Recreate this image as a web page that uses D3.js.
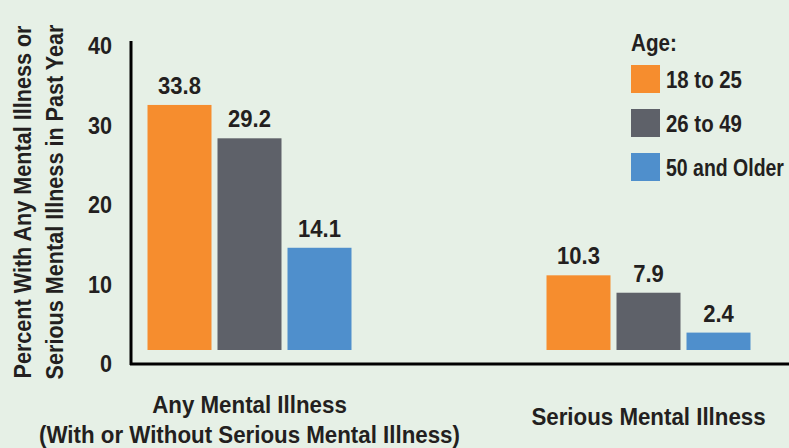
<!DOCTYPE html>
<html><head><meta charset="utf-8">
<script src="https://cdn.jsdelivr.net/npm/d3@7"></script>
<style>
html,body{margin:0;padding:0;background:#e6f0e6;}
svg{display:block;font-family:"Liberation Sans Narrow","Arial Narrow","Liberation Sans",sans-serif;font-weight:bold;}
</style></head>
<body>
<svg id="chart" width="789" height="448"></svg>
<script>
const categories = ["Any Mental Illness", "Serious Mental Illness"];
const categoryLines = [["Any Mental Illness", "(With or Without Serious Mental Illness)"], ["Serious Mental Illness"]];
const seriesNames = ["18 to 25", "26 to 49", "50 and Older"];
const values18to25 = [33.8, 10.3];
const values26to49 = [29.2, 7.9];
const values50plus = [14.1, 2.4];
const yTicks = [0, 10, 20, 30, 40];
const yTitleLines = ["Percent With Any Mental Illness or", "Serious Mental Illness in Past Year"];
const colors = ["#f68d2e", "#5e6169", "#4f8fcc"];

const svg = d3.select("#chart");
const txt = "#231f20";
const series = [values18to25, values26to49, values50plus];
const FS = 24;

// text drawn in a horizontally condensed group (simulates condensed typeface)
function addText(parent, x, y, str, opts) {
  const o = Object.assign({ anchor: "start", f: 0.9, rot: 0, maxW: null, dy: null }, opts || {});
  const g = parent.append("g");
  const t = g.append("text").attr("x", 0).attr("y", 0)
    .attr("text-anchor", o.anchor).attr("font-size", FS).attr("fill", txt).text(str);
  if (o.dy) t.attr("dy", o.dy);
  let f = o.f;
  const w = t.node().getComputedTextLength();
  if (o.maxW && w * f > o.maxW) f = o.maxW / w;
  g.attr("transform", `translate(${x},${y}) rotate(${o.rot}) scale(${f},1)`);
  return g;
}

// scales
const x0 = d3.scaleBand().domain(categories).range([50, 848]).paddingInner(0).paddingOuter(0);
const x1 = d3.scaleBand().domain(seriesNames).range([0, 204]).paddingInner(6/70).paddingOuter(0);
const yAxisScale = d3.scaleLinear().domain([0, 40]).range([363, 45]);
const yBar = d3.scaleLinear().domain([0, 40]).range([350, 60]);

// y tick labels (positions from the axis scale)
const yAxis = d3.axisLeft(yAxisScale).tickValues(yTicks).tickSize(0).tickPadding(0);
const gy = svg.append("g").attr("transform", "translate(112,0)").call(yAxis);
gy.select(".domain").remove();
gy.selectAll("text").attr("fill", txt).attr("font-size", FS).attr("font-family", null).attr("dy", "0.36em")
  .attr("transform", "scale(0.9,1)");

// axis lines
svg.append("line").attr("x1", 131).attr("x2", 131).attr("y1", 41).attr("y2", 365).attr("stroke", "#000").attr("stroke-width", 3);
svg.append("line").attr("x1", 130).attr("x2", 789).attr("y1", 364).attr("y2", 364).attr("stroke", "#000").attr("stroke-width", 3);

// bars
categories.forEach((cat, ci) => {
  const gx = x0(cat) + (x0.bandwidth() - 204) / 2;
  const g = svg.append("g").attr("transform", `translate(${gx},0)`);
  seriesNames.forEach((s, si) => {
    const v = series[si][ci];
    g.append("rect")
      .attr("x", x1(s)).attr("width", x1.bandwidth())
      .attr("y", yBar(v)).attr("height", yBar(0) - yBar(v))
      .attr("fill", colors[si]);
    addText(g, x1(s) + x1.bandwidth() / 2, yBar(v) - 11, v.toFixed(1), { anchor: "middle", f: 0.92 });
  });
  const lines = categoryLines[ci];
  const baseY = lines.length === 2 ? 413 : 425;
  lines.forEach((ln, li) => {
    addText(svg, x0(cat) + x0.bandwidth() / 2, baseY + li * 30, ln, { anchor: "middle", f: 0.93 });
  });
});

// y title
yTitleLines.forEach((ln, i) => {
  addText(svg, 31 + i * 32, 202, ln, { anchor: "middle", f: 0.9, rot: -90, maxW: 358 });
});

// legend
const lg = svg.append("g").attr("transform", "translate(631,0)");
addText(lg, 0, 51, "Age:", { f: 0.86 });
seriesNames.forEach((s, i) => {
  lg.append("rect").attr("x", 0).attr("y", 65 + i * 44).attr("width", 29).attr("height", 28).attr("fill", colors[i]);
  addText(lg, 35, 88 + i * 44, s, { f: 0.85, maxW: 118 });
});
</script>
</body></html>
